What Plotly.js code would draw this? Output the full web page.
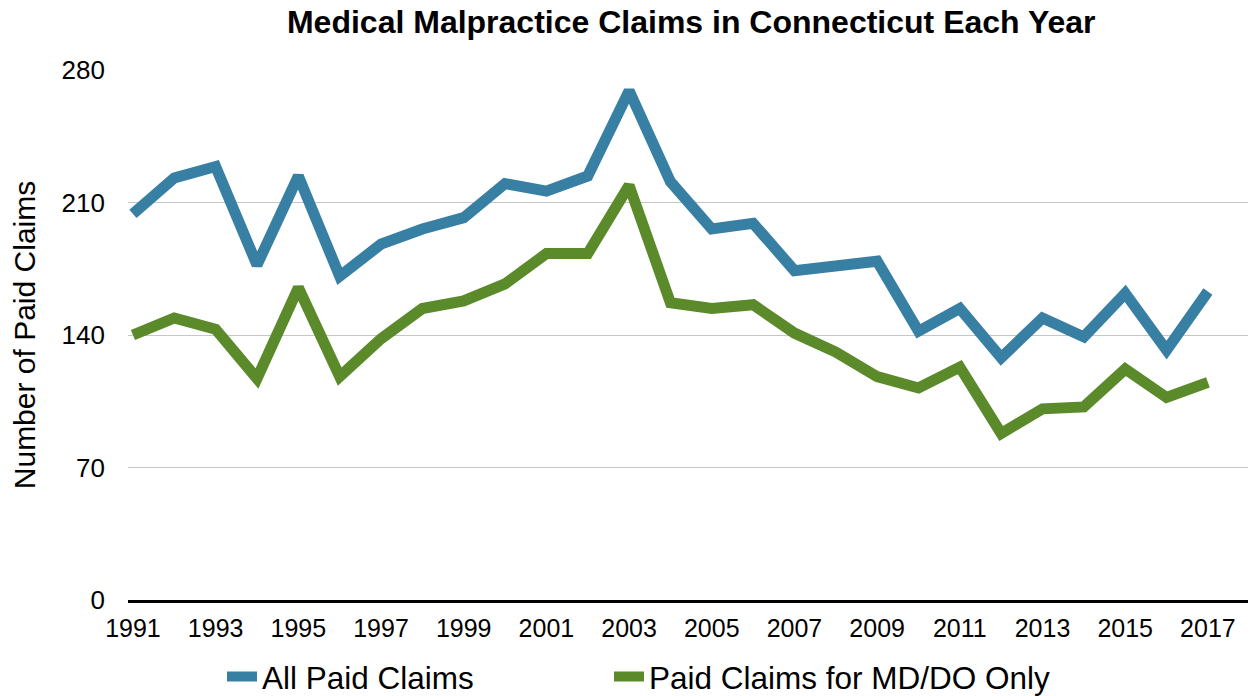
<!DOCTYPE html>
<html>
<head>
<meta charset="utf-8">
<script src="https://cdn.plot.ly/plotly-3.0.1.min.js"></script>
<style>html,body{margin:0;padding:0;background:#fff;}#chart{width:1250px;height:696px;}</style>
</head>
<body>
<div id="chart"></div>
<script>
var years = [1991,1992,1993,1994,1995,1996,1997,1998,1999,2000,2001,2002,2003,2004,2005,2006,2007,2008,2009,2010,2011,2012,2013,2014,2015,2016,2017];
var allPaidClaims = [204,223,229,177,224,171,188,196,202,220,216,224,269,221,196,199,174,176,179,142,154,128,149,139,162,132,163];
var mdDoClaims = [140,149,143,117,165,118,138,154,158,167,183,183,219,157,154,156,141,131,118,112,123,88,101,102,122,107,115];
var seriesNames = ['All Paid Claims', 'Paid Claims for MD/DO Only'];
var yTicks = [0,70,140,210,280];
var xTicks = [1991,1993,1995,1997,1999,2001,2003,2005,2007,2009,2011,2013,2015,2017];

var FONT = '"Liberation Sans", Arial, Helvetica, sans-serif';
var traces = [
  {x: years, y: allPaidClaims, name: seriesNames[0], type: 'scatter', mode: 'lines',
   line: {color: '#387FA4', width: 11}, legend: 'legend'},
  {x: years, y: mdDoClaims, name: seriesNames[1], type: 'scatter', mode: 'lines',
   line: {color: '#5A8A29', width: 11}, legend: 'legend2'}
];
var legendCommon = {orientation: 'h', yref: 'container', y: 0.028, yanchor: 'middle',
                    xref: 'container', xanchor: 'left', font: {size: 31.5, family: FONT, color: '#000'},
                    itemwidth: 30, bgcolor: 'rgba(0,0,0,0)'};
var layout = {
  width: 1250, height: 696,
  margin: {l: 128, r: 2, t: 70, b: 96},
  paper_bgcolor: '#fff', plot_bgcolor: '#fff',
  font: {family: FONT, color: '#000', size: 26},
  title: {text: '<b>Medical Malpractice Claims in Connecticut Each Year</b>',
          font: {family: FONT, size: 32, color: '#000'},
          x: 0.553, xanchor: 'center', xref: 'container', y: 0.968, yanchor: 'middle', yref: 'container'},
  xaxis: {range: [1990.88, 2017.97], tickvals: xTicks, ticktext: xTicks.map(String),
          showgrid: false, zeroline: false, showline: true, linecolor: '#000', linewidth: 3,
          ticks: '', tickfont: {size: 25}, ticklabelstandoff: 4},
  yaxis: {range: [0, 280], tickvals: yTicks, ticktext: yTicks.map(String),
          showgrid: true, gridcolor: '#C6C6C6', gridwidth: 1, zeroline: false, showline: false,
          ticks: '', tickfont: {size: 26}, ticklabelstandoff: 22,
          title: {text: 'Number of Paid Claims', font: {size: 30}, standoff: 17}},
  showlegend: true,
  legend: Object.assign({}, legendCommon, {x: 222 / 1250}),
  legend2: Object.assign({}, legendCommon, {x: 609 / 1250})
};
Plotly.newPlot('chart', traces, layout, {displayModeBar: false, staticPlot: true});
</script>
</body>
</html>
